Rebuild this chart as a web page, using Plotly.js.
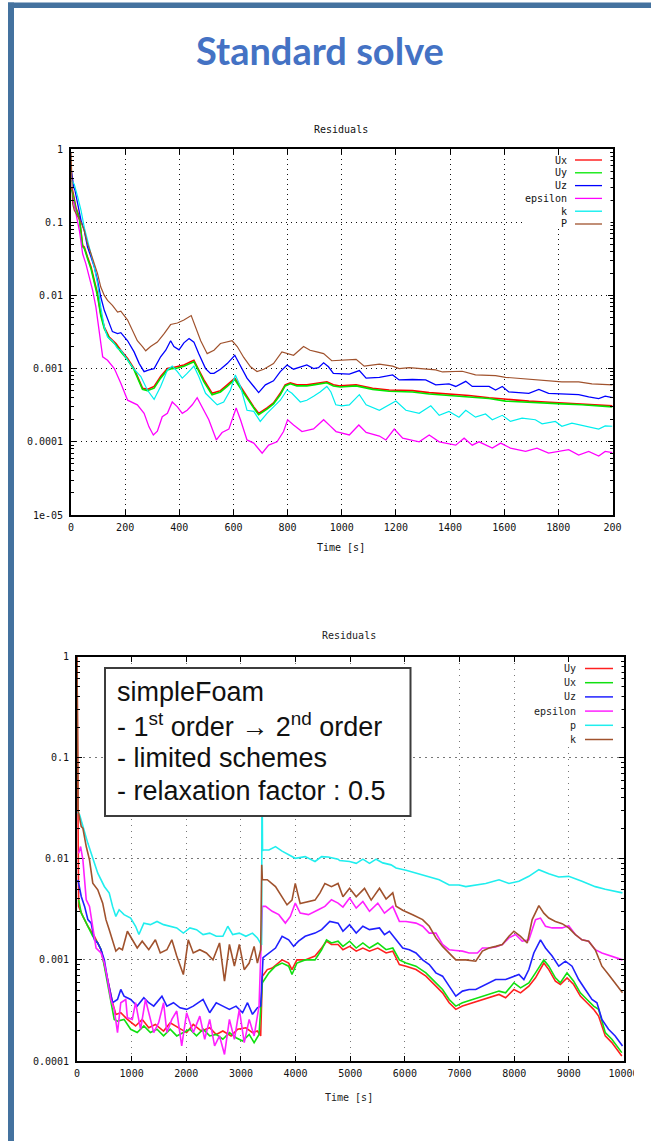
<!DOCTYPE html>
<html>
<head>
<meta charset="utf-8">
<script src="https://cdn.plot.ly/plotly-3.0.1.min.js"></script>
<style>html,body{margin:0;padding:0;background:#fff;}#plot{width:651px;height:1141px;}</style>
</head>
<body>
<div id="plot"></div>
<script>
// ---------------- DATA: top chart (Standard solve) ----------------
const topXTicks = [0,200,400,600,800,1000,1200,1400,1600,1800,2000];
const topXLabels = ['0','200','400','600','800','1000','1200','1400','1600','1800','200'];
const topYTicks = [1,0.1,0.01,0.001,0.0001,0.00001];
const topYLabels = ['1','0.1','0.01','0.001','0.0001','1e-05'];
const topNames = ['Ux','Uy','Uz','epsilon','k','P'];

const topUT = [2,6,18,31,43,49,61,74,86,98,110,123,141,166,184,209,233,252,264,282,307,331,356,374,393,417,442,454,466,491,521,552,577,605,626,650,675,693,724,748,773,791,810,834,871,896,920,945,969,994,1053,1114,1175,1261,1323,1396,1470,1544,1605,1691,1752,1813,1887,1936,2000];
const topUxV = [0.30,0.27,0.16,0.117,0.048,0.046,0.0334,0.0244,0.016,0.0106,0.0056,0.0037,0.0027,0.0022,0.00178,0.00138,0.0010,0.0007,0.00054,0.00052,0.00057,0.00078,0.0010,0.00103,0.00106,0.00112,0.00124,0.0013,0.00106,0.0007,0.00046,0.0005,0.0006,0.00074,0.00057,0.00041,0.0003,0.000245,0.00029,0.00034,0.00046,0.0006,0.00064,0.0006,0.0006,0.00062,0.00064,0.00066,0.0006,0.00058,0.0006,0.00054,0.00051,0.0005,0.00047,0.00045,0.00043,0.0004,0.00038,0.00036,0.00035,0.00034,0.00033,0.00032,0.00031];
const topUyV = [0.28,0.25,0.15,0.11,0.046,0.044,0.032,0.023,0.015,0.0098,0.0053,0.0035,0.0026,0.0021,0.0017,0.00132,0.00096,0.00068,0.00052,0.0005,0.00054,0.00074,0.00096,0.001,0.00102,0.00108,0.00118,0.00124,0.00102,0.00066,0.00044,0.00048,0.00057,0.00071,0.00054,0.00039,0.00029,0.000235,0.00028,0.00033,0.00044,0.00058,0.00062,0.00058,0.00058,0.0006,0.00062,0.00064,0.00058,0.00056,0.00058,0.00052,0.00049,0.00048,0.00045,0.00043,0.00041,0.00039,0.00036,0.00035,0.00034,0.00033,0.00032,0.00031,0.0003];

const topUzT = [2,10,15,25,37,49,61,74,86,98,110,123,141,153,172,184,209,233,252,270,288,307,331,350,368,380,399,417,436,454,472,497,515,528,552,577,605,626,650,675,693,718,748,773,798,822,853,871,896,914,933,951,969,994,1028,1065,1090,1139,1188,1212,1261,1310,1347,1396,1421,1458,1482,1544,1568,1593,1617,1691,1728,1764,1838,1875,1912,1949,1973,2000];
const topUzV = [0.5,0.30,0.27,0.178,0.106,0.077,0.0457,0.0334,0.0244,0.016,0.0095,0.00625,0.0041,0.0032,0.0030,0.0031,0.0024,0.00169,0.00117,0.00091,0.00096,0.0010,0.00145,0.00178,0.0024,0.0020,0.0018,0.00225,0.00257,0.0023,0.0016,0.0010,0.00086,0.00086,0.00098,0.00117,0.00152,0.00106,0.00074,0.00057,0.00047,0.0006,0.00068,0.00091,0.00112,0.00098,0.00108,0.00112,0.0010,0.00103,0.0012,0.00106,0.00086,0.00086,0.00084,0.00094,0.00074,0.00076,0.00082,0.0007,0.00071,0.0007,0.0006,0.00062,0.00057,0.00067,0.00057,0.00057,0.00051,0.00057,0.00048,0.00046,0.00052,0.00046,0.00045,0.00044,0.00041,0.00039,0.00042,0.0004];

const topEpsT = [6,18,31,43,55,67,80,92,104,117,135,160,184,209,245,270,288,304,319,337,356,374,393,411,429,448,466,485,509,537,558,583,610,626,650,675,706,730,761,785,800,822,853,896,933,957,979,1028,1063,1090,1139,1163,1194,1225,1286,1323,1360,1421,1452,1482,1507,1556,1587,1623,1679,1721,1764,1838,1875,1912,1949,1973,2000];
const topEpsV = [0.22,0.13,0.077,0.037,0.027,0.018,0.0117,0.0069,0.0033,0.00145,0.0013,0.0010,0.00063,0.00037,0.00032,0.000245,0.00016,0.000124,0.00014,0.00022,0.000245,0.00035,0.0003,0.000245,0.00027,0.00032,0.0004,0.0003,0.0002,0.000106,0.000134,0.000149,0.00029,0.0002,0.000106,0.000096,0.00007,0.00009,0.0001,0.000138,0.0002,0.00017,0.000138,0.00015,0.0002,0.000165,0.000138,0.000124,0.00017,0.000134,0.00012,0.000106,0.000149,0.000112,0.0001,0.000124,0.0001,0.00009,0.000112,0.00009,0.0001,0.000082,0.000096,0.000082,0.000074,0.000082,0.00007,0.000078,0.000066,0.000074,0.000064,0.000074,0.000071];

const topKT = [2,12,25,37,49,61,74,86,98,110,123,135,153,172,184,209,233,258,282,307,331,356,374,393,411,429,454,472,497,540,564,589,607,626,650,675,699,724,748,773,798,816,847,871,896,920,945,960,978,1000,1028,1065,1090,1139,1200,1237,1286,1329,1360,1396,1433,1458,1494,1531,1556,1593,1623,1666,1715,1740,1789,1813,1850,1899,1949,1973,2000];
const topKV = [0.37,0.33,0.22,0.145,0.085,0.056,0.039,0.0244,0.0145,0.0069,0.0037,0.0027,0.0024,0.00188,0.00178,0.0013,0.00098,0.00078,0.00051,0.00038,0.00057,0.00096,0.00108,0.00091,0.00074,0.00086,0.00108,0.00078,0.00046,0.00032,0.00035,0.00051,0.00082,0.00057,0.00027,0.00026,0.00019,0.000245,0.0003,0.00037,0.00051,0.00046,0.00035,0.00037,0.00042,0.00048,0.00057,0.00048,0.00032,0.00031,0.00032,0.00044,0.00032,0.00027,0.00036,0.00027,0.000245,0.00031,0.00023,0.00026,0.000217,0.00027,0.000217,0.00024,0.0002,0.00023,0.00019,0.00021,0.0002,0.000176,0.00019,0.000163,0.00018,0.000165,0.000149,0.000165,0.000163];

const topPT = [0,6,12,25,37,49,61,74,86,98,110,123,135,153,172,184,209,227,245,264,276,294,319,344,368,393,417,444,460,479,503,528,552,577,595,614,638,663,687,712,748,779,798,822,859,883,908,933,963,994,1053,1083,1139,1188,1212,1249,1310,1347,1372,1445,1494,1568,1605,1691,1752,1813,1875,1924,2000];
const topPV = [0.9,0.178,0.145,0.117,0.100,0.077,0.0507,0.037,0.0271,0.0198,0.013,0.0100,0.00855,0.0073,0.0059,0.0061,0.0046,0.0033,0.0024,0.0020,0.00175,0.0020,0.0023,0.0030,0.0040,0.0042,0.0046,0.0053,0.0037,0.0024,0.0016,0.00178,0.0022,0.0023,0.0024,0.0020,0.00142,0.00106,0.00091,0.00098,0.00117,0.00169,0.0016,0.00152,0.0020,0.00178,0.00169,0.0016,0.00128,0.0013,0.00134,0.00108,0.00115,0.00108,0.0010,0.00103,0.0010,0.00096,0.0009,0.00092,0.00082,0.0008,0.00076,0.00072,0.0007,0.00066,0.00066,0.00062,0.0006];

// ---------------- DATA: bottom chart (simpleFoam) ----------------
const botXTicks = [0,1000,2000,3000,4000,5000,6000,7000,8000,9000,10000];
const botXLabels = ['0','1000','2000','3000','4000','5000','6000','7000','8000','9000','10000'];
const botYTicks = [1,0.1,0.01,0.001,0.0001];
const botYLabels = ['1','0.1','0.01','0.001','0.0001'];
const botNames = ['Uy','Ux','Uz','epsilon','p','k'];
const boxLines = ['simpleFoam','- 1<sup>st</sup> order \u2192 2<sup>nd</sup> order','- limited schemes','- relaxation factor : 0.5'];

const botUyT = [0,30,108,199,319,440,560,651,711,801,922,1072,1193,1313,1434,1584,1705,1855,2006,2127,2277,2428,2548,2669,2819,2940,3090,3211,3301,3361,3392,3482,3572,3753,3873,3934,4024,4175,4355,4476,4566,4656,4777,4866,4988,5109,5231,5352,5504,5656,5778,5899,6021,6203,6385,6567,6689,6810,6932,7053,7236,7418,7600,7722,7843,7995,8116,8268,8390,8542,8633,8754,8845,8967,9088,9210,9332,9453,9544,9666,9787,9969];
const botUyV = [1.0,0.00338,0.00269,0.00215,0.00171,0.00126,0.000639,0.000377,0.000289,0.0003,0.000258,0.000222,0.000258,0.000213,0.00023,0.000198,0.000239,0.000213,0.000191,0.00023,0.000198,0.000213,0.000183,0.000198,0.000177,0.000206,0.000213,0.000191,0.000198,0.000177,0.00069,0.000802,0.00083,0.001,0.00093,0.000802,0.001,0.001,0.00109,0.00131,0.00153,0.00142,0.00142,0.00126,0.00136,0.00122,0.00131,0.00122,0.00131,0.00117,0.00122,0.0009,0.000866,0.000802,0.00069,0.00055,0.000472,0.000377,0.000324,0.000349,0.000377,0.000406,0.000438,0.000455,0.000422,0.00051,0.000472,0.00055,0.000664,0.00093,0.000802,0.000616,0.000571,0.000664,0.000571,0.000438,0.000377,0.000324,0.000278,0.000177,0.000152,0.000112];

const botUxT = [30,78,139,199,289,380,440,500,560,620,681,741,861,982,1102,1223,1343,1464,1584,1705,1825,1946,2066,2187,2307,2428,2548,2669,2789,2910,3030,3151,3241,3331,3392,3512,3632,3753,3873,3934,4024,4175,4355,4476,4566,4656,4777,4866,4988,5109,5231,5352,5504,5656,5778,5899,6021,6203,6385,6567,6689,6810,6932,7053,7236,7418,7600,7722,7843,7995,8116,8268,8390,8542,8633,8754,8845,8967,9088,9210,9332,9453,9544,9666,9787,9969];
const botUxV = [0.00393,0.0029,0.0025,0.00215,0.00171,0.00147,0.00126,0.000866,0.000593,0.000377,0.000258,0.000248,0.000258,0.000206,0.000191,0.000222,0.000191,0.000206,0.000177,0.000206,0.000177,0.000191,0.000206,0.000177,0.000206,0.000177,0.000183,0.000164,0.000191,0.00017,0.000158,0.000183,0.000152,0.000183,0.000593,0.000744,0.000866,0.00093,0.000866,0.000716,0.00093,0.001,0.001,0.00126,0.00158,0.00147,0.00153,0.00136,0.00153,0.00131,0.00147,0.00131,0.00147,0.00126,0.00131,0.001,0.00093,0.000866,0.000744,0.000593,0.00051,0.000406,0.000349,0.000377,0.000406,0.000438,0.000472,0.000491,0.000472,0.000593,0.000529,0.000593,0.000744,0.001,0.000866,0.000664,0.000593,0.000744,0.000616,0.000472,0.000406,0.000349,0.000324,0.000191,0.000164,0.000121];

const botUzT = [18,78,139,199,259,319,380,440,500,560,651,741,801,861,982,1102,1223,1313,1404,1554,1645,1765,1886,2006,2127,2307,2428,2548,2669,2789,2910,3030,3120,3211,3301,3361,3404,3512,3632,3753,3873,3964,4054,4175,4355,4476,4626,4777,4866,4988,5109,5231,5352,5535,5626,5717,5838,5960,6081,6203,6324,6446,6567,6689,6810,6932,7053,7175,7296,7418,7539,7661,7843,7995,8086,8177,8268,8359,8481,8572,8694,8815,8937,9058,9180,9301,9423,9514,9605,9726,9848,9982];
const botUzV = [0.00619,0.00424,0.00338,0.0025,0.00231,0.00158,0.00147,0.00126,0.001,0.000639,0.000377,0.000406,0.00051,0.000438,0.000406,0.000349,0.000422,0.000377,0.000349,0.000438,0.000349,0.000377,0.000336,0.000324,0.000349,0.000406,0.0003,0.000377,0.000349,0.000324,0.000349,0.0003,0.000377,0.000289,0.000336,0.000349,0.00105,0.00117,0.00131,0.00171,0.00158,0.00136,0.00153,0.00171,0.00184,0.00199,0.0024,0.00231,0.00192,0.00223,0.00184,0.00215,0.00199,0.00207,0.00178,0.00192,0.00158,0.00131,0.00126,0.00117,0.0010,0.0009,0.000744,0.00069,0.00055,0.000438,0.000491,0.00051,0.00051,0.00055,0.000593,0.000639,0.000639,0.00069,0.000716,0.000639,0.000802,0.00117,0.00158,0.00131,0.00109,0.000866,0.00097,0.000866,0.000639,0.00051,0.000406,0.000377,0.000258,0.000206,0.000177,0.000141];

const botEpsT = [30,66,108,169,229,289,349,440,500,560,620,681,741,801,892,922,1012,1072,1163,1253,1343,1404,1494,1584,1645,1735,1825,1916,2006,2127,2247,2337,2428,2518,2608,2699,2789,2880,2970,3060,3151,3241,3331,3392,3452,3572,3693,3813,3904,3994,4084,4235,4416,4536,4656,4777,4866,4988,5109,5231,5352,5504,5626,5778,5899,6021,6203,6324,6446,6567,6689,6810,6932,7053,7175,7327,7418,7539,7661,7782,7904,8025,8147,8268,8390,8481,8572,8694,8876,8997,9119,9240,9362,9483,9605,9787,9982];
const botEpsV = [0.0113,0.0132,0.00975,0.00393,0.00338,0.00199,0.00131,0.00117,0.00093,0.000639,0.000406,0.000324,0.000191,0.000377,0.000406,0.000268,0.000258,0.000377,0.000206,0.000406,0.000258,0.000191,0.000239,0.000377,0.000191,0.000258,0.000312,0.000141,0.0003,0.000191,0.000278,0.000164,0.000258,0.000141,0.000177,0.000116,0.000258,0.000164,0.000324,0.000152,0.000258,0.000177,0.000349,0.00338,0.00338,0.00302,0.0028,0.00231,0.00269,0.00364,0.0029,0.0028,0.00313,0.00338,0.00393,0.00364,0.00333,0.00408,0.00325,0.00378,0.00302,0.00364,0.0029,0.00338,0.0024,0.0024,0.00231,0.00215,0.00184,0.00184,0.00142,0.00126,0.00124,0.00122,0.00117,0.00117,0.00131,0.00131,0.00134,0.00142,0.00165,0.00178,0.00153,0.00158,0.0025,0.00259,0.00215,0.00207,0.00207,0.00218,0.00178,0.00158,0.00153,0.00126,0.00117,0.00109,0.0010];

const botPT = [10,48,199,380,500,590,651,711,771,861,982,1072,1133,1223,1343,1464,1584,1705,1825,1946,2066,2187,2307,2428,2548,2669,2759,2849,2970,3090,3211,3301,3361,3378,3385,3395,3404,3512,3632,3753,3873,3994,4175,4355,4476,4596,4777,4806,4988,5109,5231,5352,5474,5595,5747,5838,6021,6264,6446,6628,6810,6993,7114,7296,7479,7722,7904,8086,8268,8451,8633,8815,8997,9240,9483,9666,9980];
const botPV = [0.029,0.0271,0.0142,0.0072,0.00532,0.00457,0.00338,0.00269,0.00313,0.0028,0.00259,0.00215,0.00178,0.00231,0.00223,0.0024,0.00223,0.00215,0.00207,0.00184,0.00207,0.00199,0.00178,0.00184,0.00171,0.00171,0.00215,0.00178,0.00184,0.00171,0.00184,0.00165,0.00142,0.0014,0.08,0.012,0.0122,0.0122,0.0132,0.0119,0.0110,0.0101,0.0105,0.0094,0.0105,0.0104,0.0099,0.0096,0.0094,0.0090,0.0099,0.0090,0.0099,0.0091,0.0087,0.0081,0.0077,0.0071,0.0066,0.0062,0.0055,0.0055,0.0053,0.0055,0.0057,0.0062,0.0057,0.0060,0.0067,0.0078,0.0071,0.0066,0.0067,0.0060,0.0053,0.0050,0.0046];

const botKT = [0,20,78,108,169,229,289,380,470,530,590,651,711,771,831,922,1012,1102,1193,1313,1434,1524,1645,1735,1825,1946,2036,2127,2247,2367,2488,2608,2699,2789,2880,2970,3060,3151,3241,3301,3361,3380,3392,3482,3632,3753,3843,3934,3994,4084,4235,4355,4446,4536,4656,4777,4866,4988,5109,5261,5383,5535,5656,5778,5838,5960,6142,6324,6446,6567,6689,6810,6932,7114,7296,7418,7539,7661,7782,7904,7995,8116,8238,8329,8451,8542,8633,8754,8876,8997,9119,9240,9362,9483,9605,9726,9848,9982];
const botKV = [1.0,0.03,0.0208,0.02,0.0132,0.00975,0.00574,0.00493,0.00364,0.0025,0.00199,0.00158,0.00122,0.00131,0.00126,0.00192,0.00158,0.00131,0.00153,0.00126,0.00158,0.00117,0.00126,0.00158,0.00109,0.000716,0.00158,0.00117,0.00126,0.00117,0.001,0.00147,0.000616,0.00142,0.000866,0.00142,0.0008,0.00093,0.00136,0.00093,0.00126,0.0087,0.0062,0.0062,0.0053,0.0042,0.0035,0.0039,0.0057,0.0036,0.0038,0.0039,0.0046,0.0057,0.0053,0.0057,0.0042,0.0051,0.0042,0.0051,0.0039,0.0051,0.0040,0.0046,0.0034,0.0031,0.0028,0.0025,0.00215,0.00165,0.00136,0.00117,0.0010,0.0010,0.00097,0.00122,0.00131,0.00136,0.00142,0.00171,0.00192,0.00171,0.00147,0.0025,0.00344,0.0029,0.00259,0.0024,0.00228,0.00207,0.00178,0.00158,0.00153,0.00126,0.000866,0.000716,0.000593,0.000472];

// ---------------- STYLE / LAYOUT ----------------
const W = 651, H = 1141;
const px = x => x / W;
const py = y => 1 - y / H;
const mono = 'DejaVu Sans Mono, Liberation Mono, monospace';

const topColors = ['#ff0000','#00e800','#0000ff','#ff00ff','#00eeee','#a0522d'];
const botColors = ['#ff2020','#10e010','#2020ff','#ff20ff','#20eeee','#a0522d'];
const topWidths = [1.6,1.6,1.3,1.3,1.2,1.2];

const topSeries = [[topUT,topUxV],[topUT,topUyV],[topUzT,topUzV],[topEpsT,topEpsV],[topKT,topKV],[topPT,topPV]];
const botSeries = [[botUyT,botUyV],[botUxT,botUxV],[botUzT,botUzV],[botEpsT,botEpsV],[botPT,botPV],[botKT,botKV]];

const traces = [];
topSeries.forEach((s,i)=>traces.push({x:s[0],y:s[1],type:'scatter',mode:'lines',name:topNames[i],
  xaxis:'x',yaxis:'y',line:{color:topColors[i],width:topWidths[i]},hoverinfo:'skip'}));
botSeries.forEach((s,i)=>traces.push({x:s[0],y:s[1],type:'scatter',mode:'lines',name:botNames[i],
  xaxis:'x2',yaxis:'y2',line:{color:botColors[i],width:1.6},hoverinfo:'skip'}));

function minorVals(lo, hi){ // minor log ticks 2..9 per decade (axis decoration)
  const out=[]; for(let e=lo;e<hi;e++){ for(let d=2;d<=9;d++) out.push(d*Math.pow(10,e)); } return out;
}

function xAxis(domain, range, tv, tt, grid, dash, anchor){
  return {domain, range, tickmode:'array', tickvals:tv, ticktext:tt, ticks:'inside', ticklen:5, tickwidth:1,
    tickcolor:'#000', showline:true, linewidth:2, linecolor:'#000', mirror:'ticks', showgrid:true,
    gridcolor:grid, griddash:dash, gridwidth:1, zeroline:false, anchor, fixedrange:true,
    tickfont:{family:mono,size:10,color:'#111'}, ticklabelstandoff:2};
}
function yAxis(domain, range, tv, tt, grid, dash, anchor, lo){
  return {type:'log', domain, range, tickmode:'array', tickvals:tv, ticktext:tt, ticks:'inside', ticklen:5, tickwidth:1,
    tickcolor:'#000', showline:true, linewidth:2, linecolor:'#000', mirror:'ticks', showgrid:true,
    gridcolor:grid, griddash:dash, gridwidth:1, zeroline:false, anchor, fixedrange:true,
    tickfont:{family:mono,size:10,color:'#111'}, ticklabelstandoff:4,
    minor:{tickmode:'array', tickvals:minorVals(lo,0), ticks:'inside', ticklen:3, tickcolor:'#000', showgrid:false}};
}

const shapes = [];
const annotations = [];

// slide frame
shapes.push({type:'rect',xref:'paper',yref:'paper',x0:px(8),x1:px(651),y0:py(8),y1:py(2.5),fillcolor:'#44729f',line:{width:0},layer:'above'});
shapes.push({type:'rect',xref:'paper',yref:'paper',x0:px(8),x1:px(14),y0:py(1141),y1:py(2.5),fillcolor:'#44729f',line:{width:0},layer:'above'});

// legend backgrounds (hide grid) - drawn before the legend samples
shapes.push({type:'rect',xref:'paper',yref:'paper',x0:px(522),x1:px(610.5),y0:py(227),y1:py(155),fillcolor:'#fff',line:{width:0},layer:'above'});
shapes.push({type:'rect',xref:'paper',yref:'paper',x0:px(524),x1:px(621.5),y0:py(745),y1:py(662),fillcolor:'#fff',line:{width:0},layer:'above'});

// legends
topNames.forEach((n,i)=>{
  const y = 160 + 12.8*i;
  shapes.push({type:'line',xref:'paper',yref:'paper',x0:px(575),x1:px(602),y0:py(y),y1:py(y),line:{color:topColors[i],width:1.3},layer:'above'});
  annotations.push({xref:'paper',yref:'paper',x:px(569),y:py(y),xanchor:'right',yanchor:'middle',text:n,showarrow:false,
    font:{family:mono,size:10,color:'#111'}});
});
botNames.forEach((n,i)=>{
  const y = 668.5 + 14.2*i;
  shapes.push({type:'line',xref:'paper',yref:'paper',x0:px(585),x1:px(613),y0:py(y),y1:py(y),line:{color:botColors[i],width:1.5},layer:'above'});
  annotations.push({xref:'paper',yref:'paper',x:px(578),y:py(y),xanchor:'right',yanchor:'middle',text:n,showarrow:false,
    font:{family:mono,size:10,color:'#222'}});
});

// text box in bottom chart
shapes.push({type:'rect',xref:'paper',yref:'paper',x0:px(105),x1:px(410.5),y0:py(816),y1:py(668),fillcolor:'#fff',line:{color:'#3c3c3c',width:2},layer:'above'});
boxLines.forEach((t,i)=>{
  annotations.push({xref:'paper',yref:'paper',x:px(115),y:py(691.5+33.3*i),xanchor:'left',yanchor:'middle',text:t,showarrow:false,
    font:{family:'Liberation Sans, Arial, sans-serif',size:27,color:'#111'}});
});

// crop of the last bottom tick label (screenshot edge)
shapes.push({type:'rect',xref:'paper',yref:'paper',x0:px(634),x1:px(651),y0:py(1088),y1:py(1066),fillcolor:'#fff',line:{width:0},layer:'above'});

// titles
annotations.push({xref:'paper',yref:'paper',x:px(320),y:py(50),xanchor:'center',yanchor:'middle',text:'Standard solve',showarrow:false,
  font:{family:'Lato, Open Sans, sans-serif',size:38,color:'#4472C4',weight:700}});
annotations.push({xref:'paper',yref:'paper',x:px(341),y:py(130),xanchor:'center',yanchor:'middle',text:'Residuals',showarrow:false,font:{family:mono,size:10,color:'#111'}});
annotations.push({xref:'paper',yref:'paper',x:px(341),y:py(547),xanchor:'center',yanchor:'middle',text:'Time [s]',showarrow:false,font:{family:mono,size:10,color:'#111'}});
annotations.push({xref:'paper',yref:'paper',x:px(349),y:py(635),xanchor:'center',yanchor:'middle',text:'Residuals',showarrow:false,font:{family:mono,size:10,color:'#222'}});
annotations.push({xref:'paper',yref:'paper',x:px(349),y:py(1097),xanchor:'center',yanchor:'middle',text:'Time [s]',showarrow:false,font:{family:mono,size:10,color:'#222'}});

const layout = {
  width:W, height:H, margin:{l:0,r:0,t:0,b:0,pad:0}, paper_bgcolor:'#fff', plot_bgcolor:'#fff', showlegend:false,
  xaxis: xAxis([px(71),px(612.5)],[0,2000],topXTicks,topXLabels,'#111','1.2px,3.8px','y'),
  yaxis: yAxis([py(515),py(149)],[-5,0],topYTicks,topYLabels,'#111','1.2px,3.8px','x',-5),
  xaxis2: xAxis([px(77),px(623.5)],[0,10000],botXTicks,botXLabels,'#777','1.6px,4.4px','y2'),
  yaxis2: yAxis([py(1061),py(656.5)],[-4,0],botYTicks,botYLabels,'#777','1.6px,4.4px','x2',-4),
  shapes, annotations
};

Plotly.newPlot('plot', traces, layout, {staticPlot:true, displayModeBar:false});
</script>
</body>
</html>
